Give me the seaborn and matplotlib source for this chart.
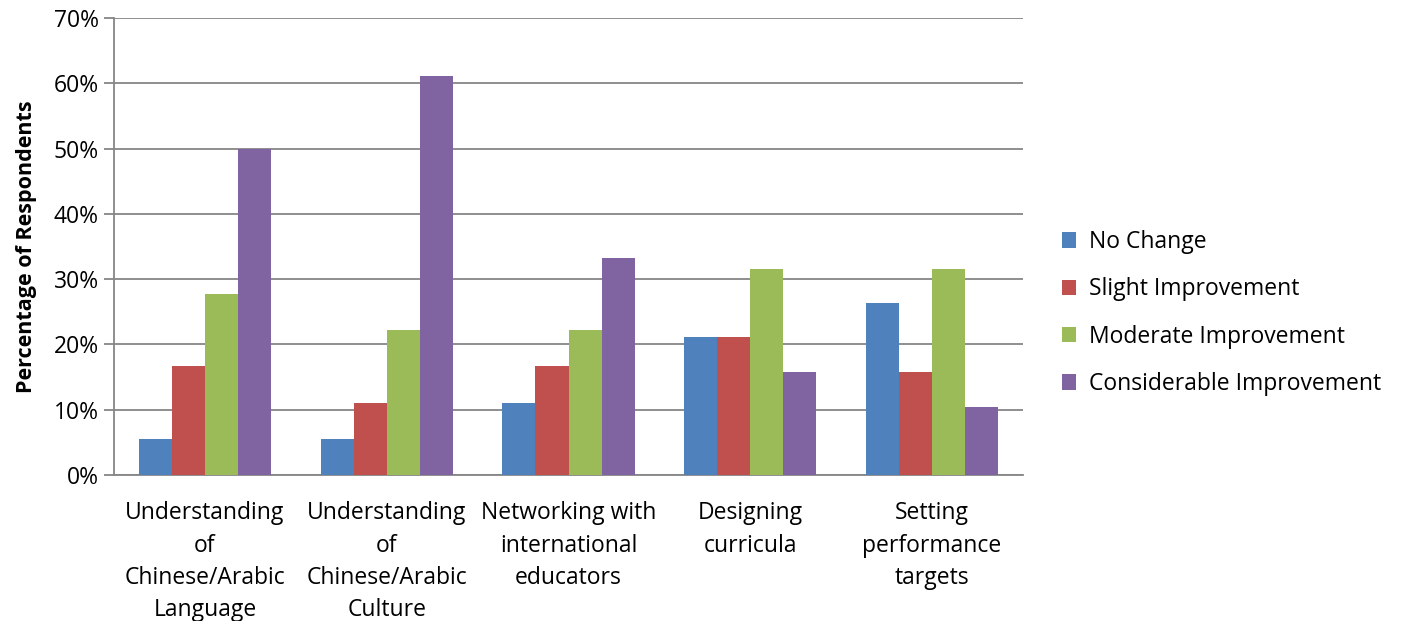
import matplotlib
matplotlib.use("Agg")
import matplotlib.pyplot as plt
import matplotlib.ticker as mticker
from matplotlib.patches import Patch
import seaborn as sns
import pandas as pd
import numpy as np

categories = [
    "Understanding\nof\nChinese/Arabic\nLanguage",
    "Understanding\nof\nChinese/Arabic\nCulture",
    "Networking with\ninternational\neducators",
    "Designing\ncurricula",
    "Setting\nperformance\ntargets",
]
series = ["No Change", "Slight Improvement", "Moderate Improvement", "Considerable Improvement"]
no_change = [5.6, 5.6, 11.1, 21.1, 26.3]
slight = [16.7, 11.1, 16.7, 21.1, 15.8]
moderate = [27.8, 22.2, 22.2, 31.6, 31.6]
considerable = [50.0, 61.1, 33.3, 15.8, 10.5]
colors = ["#4F81BD", "#C0504D", "#9BBB59", "#8064A2"]

rows = []
for name, vals in zip(series, [no_change, slight, moderate, considerable]):
    for cat, v in zip(categories, vals):
        rows.append({"Category": cat, "Series": name, "Value": v})
df = pd.DataFrame(rows)

sns.set_theme(style="white")
plt.rcParams["font.family"] = ["Open Sans", "DejaVu Sans"]
plt.rcParams["text.color"] = "black"

fig = plt.figure(figsize=(14.01, 6.21), dpi=100)
ax = fig.add_axes([0.0814, 0.235, 0.6488, 0.736])

sns.barplot(data=df, x="Category", y="Value", hue="Series", hue_order=series,
            order=categories, palette=colors, width=0.727, saturation=1,
            edgecolor="none", ax=ax, legend=False, zorder=3)

grid_color = "#868686"
ax.set_ylim(0, 70)
ax.set_xlim(-0.5, len(categories) - 0.5)
ax.yaxis.set_major_locator(mticker.MultipleLocator(10))
ax.yaxis.set_major_formatter(mticker.FuncFormatter(lambda v, p: f"{int(v)}%"))
ax.grid(axis="y", color=grid_color, linewidth=1.3, zorder=0)
ax.set_axisbelow(True)

for side in ["top", "right"]:
    ax.spines[side].set_visible(False)
for side in ["left", "bottom"]:
    ax.spines[side].set_color(grid_color)
    ax.spines[side].set_linewidth(1.3)

# category boundary ticks on the x axis
ax.set_xticks(np.arange(-0.5, len(categories), 1.0), minor=True)
ax.tick_params(axis="x", which="minor", length=8, width=1.3, color=grid_color, direction="out")
ax.tick_params(axis="x", which="major", length=0, pad=19, labelsize=16.5, labelcolor="black")
ax.tick_params(axis="y", which="major", length=7, width=1.3, color=grid_color, direction="out",
               left=True, pad=4, labelsize=16.5, labelcolor="black")
for lbl in ax.get_xticklabels():
    lbl.set_linespacing(1.45)

ax.set_xlabel("")
ax.set_ylabel("Percentage of Respondents", fontsize=15.5, fontweight="bold", labelpad=12,
              color="black")

handles = [Patch(facecolor=c, edgecolor="none") for c in colors]
fig.legend(handles, series, loc="center left", bbox_to_anchor=(0.743, 0.496), frameon=False,
           fontsize=16.5, handlelength=0.65, handleheight=0.65, handletextpad=0.55,
           labelspacing=1.02, labelcolor="black")

fig.savefig("out.png", dpi=100)
